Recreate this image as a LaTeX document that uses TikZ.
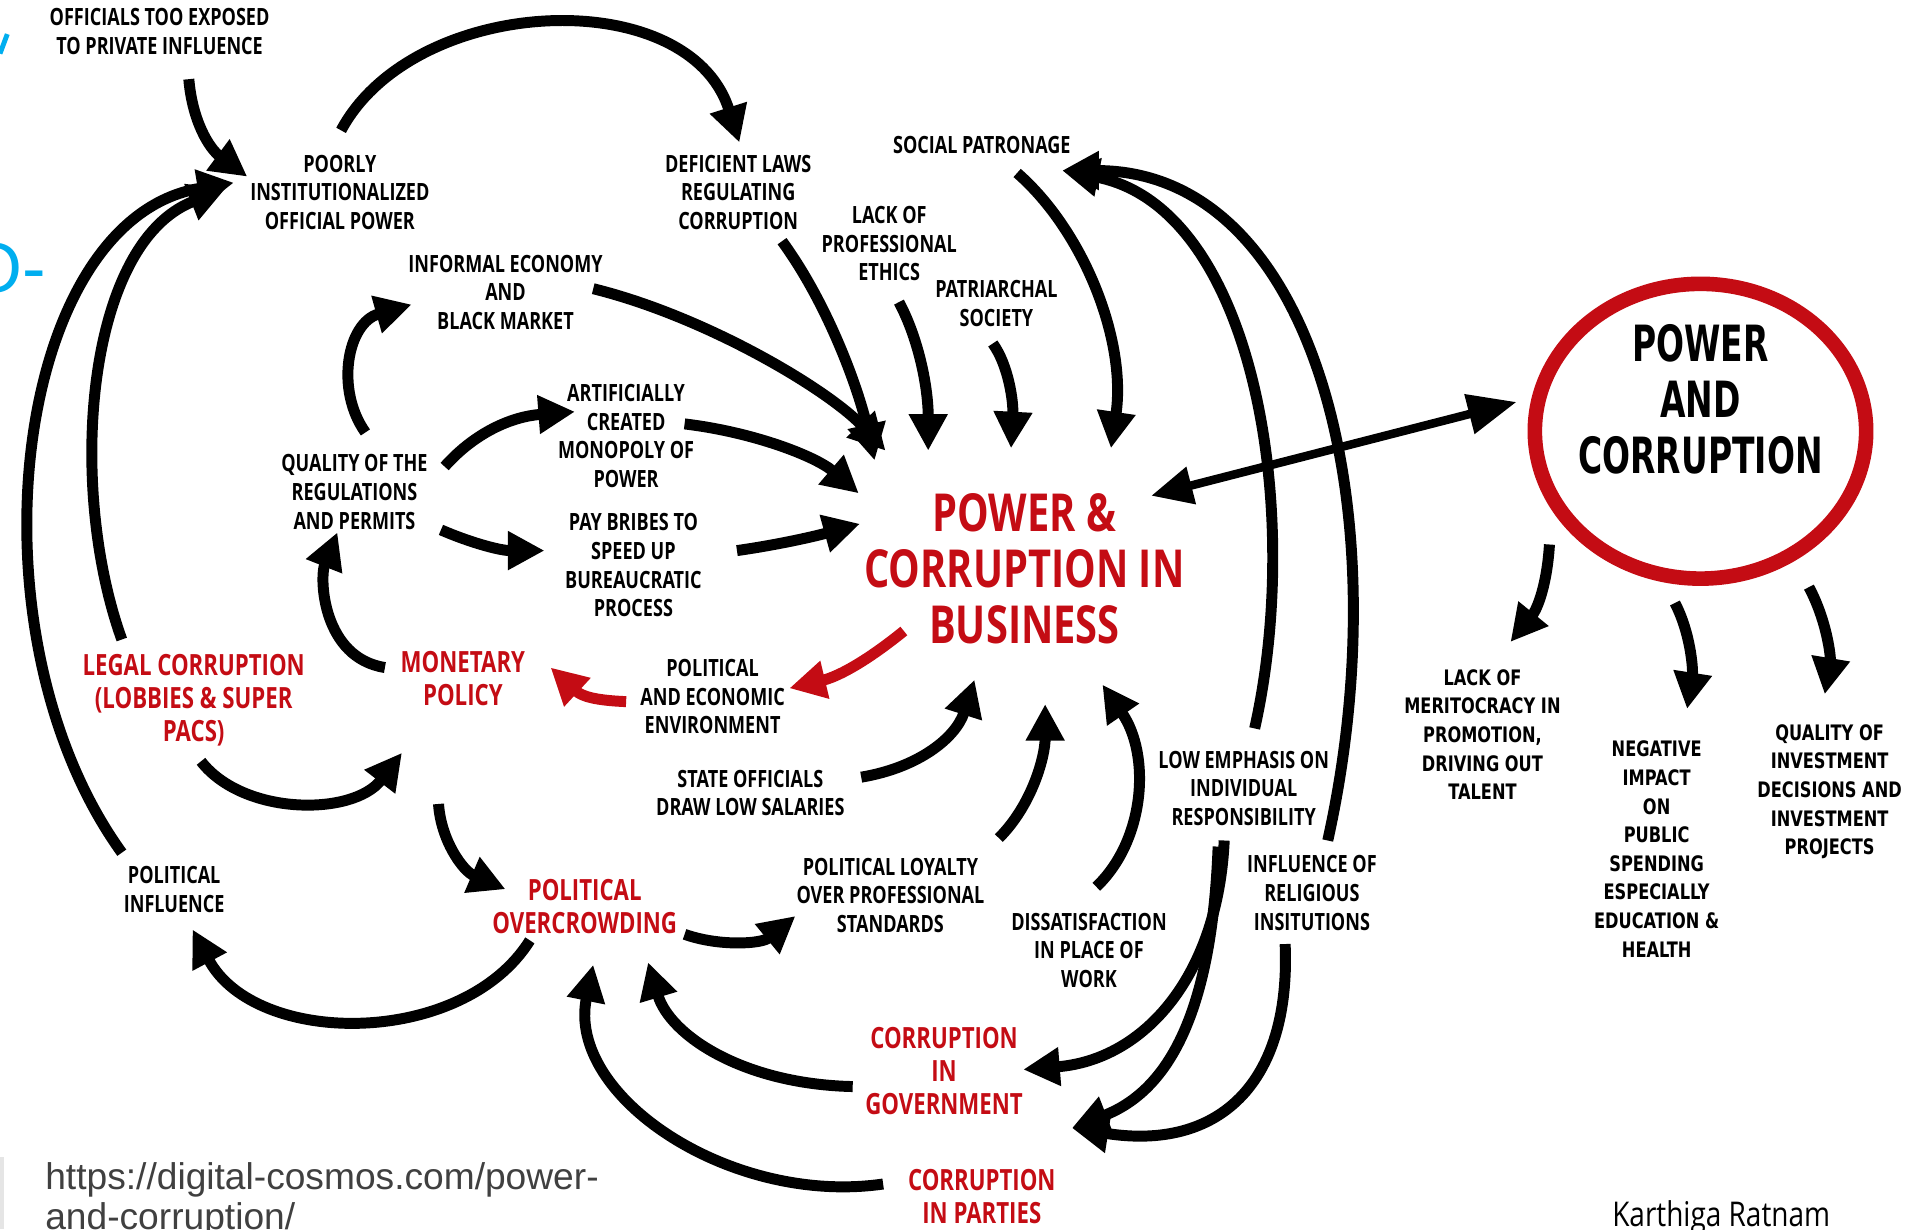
\documentclass[tikz,border=0pt]{standalone}
\usepackage{fontspec}
\usepackage{xcolor}
\usepackage{tikz}
\usetikzlibrary{arrows.meta, shapes.geometric, calc}
\newfontfamily\labfont{Open Sans}[FakeStretch=0.76]
\newfontfamily\outfont{DejaVu Sans}[FakeStretch=0.76]
\newfontfamily\ringfont{DejaVu Sans}[FakeStretch=0.66]
\newfontfamily\signfont{Open Sans}[FakeStretch=0.82]
\newfontfamily\urlfont{Liberation Sans}
\definecolor{corrred}  {RGB}{196, 12, 20}
\definecolor{slideblue}{RGB}{0, 174, 239}
\definecolor{urlgray}  {RGB}{64, 64, 64}
\tikzset{
  % cause label
  cause/.style={
    align=center, inner sep=2pt, text=black,
    font=\labfont\bfseries\fontsize{19.5}{23.5}\selectfont
  },
  % red key factor
  factor/.style={cause, text=corrred,
    font=\labfont\bfseries\fontsize{24}{27}\selectfont},
  % consequences on the right
  effect/.style={cause, font=\outfont\bfseries\fontsize{17.5}{23.5}\selectfont},
  % red ring
  ring/.style={ellipse, draw=corrred, line width=12pt,
    minimum width=272pt, minimum height=242pt},
  % Arrow style
  arr/.style={-{Triangle[length=30pt, width=30pt]}, line width=9pt},
  redarr/.style={arr, draw=corrred},
}

\begin{document}
\begin{tikzpicture}[x=1pt, y=-1pt]
  \fill[white] (0,0) rectangle (1568,1009);
  \useasboundingbox (0,0) rectangle (1568,1009);

  % slide leftovers
  \node[anchor=base west, inner sep=0, text=slideblue,
        font=\urlfont\fontsize{58}{58}\selectfont] (slidefrag) at (-27,240) {O-};
  \draw[slideblue, line width=4pt] (0,44) -- (6,28);
  \fill[black!10] (0,950) rectangle (3,1009);

  \node[cause] (officials) at (131,26)  {OFFICIALS TOO EXPOSED\\TO PRIVATE INFLUENCE};
  \node[cause] (poorly)    at (279,158) {POORLY\\INSTITUTIONALIZED\\OFFICIAL POWER};
  \node[cause] (deficient) at (606,158) {DEFICIENT LAWS\\REGULATING\\CORRUPTION};
  \node[cause] (social)    at (806,119) {SOCIAL PATRONAGE};
  \node[cause] (ethics)    at (730,200) {LACK OF\\PROFESSIONAL\\ETHICS};
  \node[cause] (patri)     at (818,249) {PATRIARCHAL\\SOCIETY};
  \node[cause] (informal)  at (415,240) {INFORMAL ECONOMY\\AND\\BLACK MARKET};
  \node[cause] (monopoly)  at (514,358) {ARTIFICIALLY\\CREATED\\MONOPOLY OF\\POWER};
  \node[cause] (quality)   at (291,404) {QUALITY OF THE\\REGULATIONS\\AND PERMITS};
  \node[cause] (bribes)    at (520,464) {PAY BRIBES TO\\SPEED UP\\BUREAUCRATIC\\PROCESS};
  \node[factor, font=\labfont\bfseries\fontsize{43}{46}\selectfont]
               (business)  at (841,467) {POWER \&\\CORRUPTION IN\\BUSINESS};
  \node[factor] (legal)    at (159,575) {LEGAL CORRUPTION\\(LOBBIES \& SUPER\\PACS)};
  \node[factor] (monetary) at (380,557) {MONETARY\\POLICY};
  \node[cause] (envir)     at (585,572) {POLITICAL\\AND ECONOMIC\\ENVIRONMENT};
  \node[cause] (salaries)  at (616,651) {STATE OFFICIALS\\DRAW LOW SALARIES};
  \node[cause] (polinf)    at (143,730) {POLITICAL\\INFLUENCE};
  \node[factor] (overcrowd) at (480,744) {POLITICAL\\OVERCROWDING};
  \node[cause] (loyalty)   at (731,735) {POLITICAL LOYALTY\\OVER PROFESSIONAL\\STANDARDS};
  \node[cause] (dissat)    at (894,780) {DISSATISFACTION\\IN PLACE OF\\WORK};
  \node[cause] (lowemph)   at (1021,647) {LOW EMPHASIS ON\\INDIVIDUAL\\RESPONSIBILITY};
  \node[cause] (religious) at (1077,733) {INFLUENCE OF\\RELIGIOUS\\INSITUTIONS};
  \node[factor] (govt)     at (775,879) {CORRUPTION\\IN\\GOVERNMENT};
  \node[factor] (parties)  at (806,982) {CORRUPTION\\IN PARTIES};

  \node[ring] (pac) at (1396,354) {};
  \node[align=center, font=\ringfont\bfseries\fontsize{41}{46}\selectfont]
               (pacname)   at (1396,328) {POWER\\AND\\CORRUPTION};
  \node[effect] (merit)    at (1217,603) {LACK OF\\MERITOCRACY IN\\PROMOTION,\\DRIVING OUT\\TALENT};
  \node[effect] (spending) at (1360,697) {NEGATIVE\\IMPACT\\ON\\PUBLIC\\SPENDING\\ESPECIALLY\\EDUCATION \&\\HEALTH};
  \node[effect] (invest)   at (1502,650) {QUALITY OF\\INVESTMENT\\DECISIONS AND\\INVESTMENT\\PROJECTS};

  \node[anchor=north west, align=left, inner sep=0, text=urlgray,
        font=\urlfont\fontsize{30.5}{33}\selectfont]
               (url)       at (37,954) {https://digital-cosmos.com/power-\\and-corruption/};
  \node[font=\signfont\fontsize{28}{30}\selectfont] (author) at (1413,1000) {Karthiga Ratnam};

  % left loop
  \draw[arr] ($(officials)+(24,39)$) .. controls +(3,35) and +(-31,-23) .. ($(poorly)+(-76,-13)$);
  \draw[arr] ($(poorly)+(1,-51)$) .. controls +(60,-112) and +(-42,-132) .. ($(deficient)+(1,-41)$);
  \draw[arr] ($(polinf)+(-43,-30)$) .. controls +(-130,-180) and +(-182,30) .. ($(poorly)+(-87,-8)$);
  \draw[arr] ($(legal)+(-59,-50)$) .. controls +(-45,-125) and +(-115,45) .. ($(poorly)+(-94,-3)$);
  \draw[arr] ($(quality)+(9,-49)$) .. controls +(-25,-35) and +(-53,15) .. ($(informal)+(-77,10)$);
  \draw[arr] ($(quality)+(74,-21)$) .. controls +(25,-28) and +(-52,4) .. ($(monopoly)+(-42,-20)$);
  \draw[arr] ($(quality)+(71,31)$) .. controls +(23,10) and +(-37,0) .. ($(bribes)+(-73,-12)$);
  \draw[arr] ($(monetary)+(-64,-9)$) .. controls +(-51,-8) and +(-15,38) .. ($(quality)+(-14,33)$);

  % into the business node
  \draw[arr] ($(informal)+(72,-3)$) .. controls +(93,23) and +(-47,-50) .. ($(business)+(-114,-97)$);
  \draw[arr] ($(deficient)+(36,40)$) .. controls +(38,52) and +(-13,-58) .. ($(business)+(-123,-89)$);
  \draw[arr] ($(ethics)+(8,48)$) .. controls +(17,32) and +(0,-50) .. ($(business)+(-79,-97)$);
  \draw[arr] ($(patri)+(-3,33)$) .. controls +(13,18) and +(2,-38) .. ($(business)+(-11,-99)$);
  \draw[arr] ($(social)+(29,23)$) .. controls +(55,48) and +(13,-88) .. ($(business)+(71,-99)$);
  \draw[arr] ($(monopoly)+(48,-10)$) .. controls +(58,7) and +(-35,-30) .. ($(business)+(-136,-62)$);
  \draw[arr] ($(bribes)+(85,-12)$) .. controls +(35,-5) and +(-36,10) .. ($(business)+(-135,-37)$);
  \draw[arr] ($(salaries)+(91,-13)$) .. controls +(48,-8) and +(-15,47) .. ($(business)+(-41,91)$);
  \draw[arr] ($(loyalty)+(89,-47)$) .. controls +(28,-28) and +(0,42) .. ($(business)+(17,111)$);
  \draw[arr] ($(dissat)+(6,-52)$) .. controls +(40,-38) and +(40,58) .. ($(business)+(64,95)$);

  % red feedback
  \draw[redarr] ($(business)+(-99,51)$) .. controls +(-27,22) and +(42,-10) .. ($(envir)+(63,-7)$);
  \draw[redarr] ($(envir)+(-71,4)$) .. controls +(-24,-1) and +(26,24) .. ($(monetary)+(72,-9)$);

  % lower loop
  \draw[arr] ($(legal)+(6,50)$) .. controls +(35,45) and +(-40,52) .. ($(monetary)+(-50,61)$);
  \draw[arr] ($(monetary)+(-20,103)$) .. controls +(2,30) and +(-35,-15) .. ($(overcrowd)+(-65,-14)$);
  \draw[arr] ($(overcrowd)+(-45,28)$) .. controls +(-55,88) and +(52,97) .. ($(polinf)+(15,33)$);
  \draw[arr] ($(overcrowd)+(82,23)$) .. controls +(28,10) and +(-28,23) .. ($(loyalty)+(-78,17)$);
  \draw[arr] ($(govt)+(-75,13)$) .. controls +(-90,-2) and +(18,60) .. ($(overcrowd)+(52,46)$);
  \draw[arr] ($(parties)+(-81,-10)$) .. controls +(-125,18) and +(-22,108) .. ($(overcrowd)+(7,48)$);

  % right arcs
  \draw[arr] ($(lowemph)+(9,-49)$) .. controls +(40,-178) and +(158,30) .. ($(social)+(66,21)$);
  \draw[arr] ($(religious)+(13,-43)$) .. controls +(60,-270) and +(208,0) .. ($(social)+(66,21)$);
  \draw[arr] ($(lowemph)+(-16,43)$) .. controls +(-5,110) and +(100,-8) .. ($(govt)+(65,-1)$);
  \draw[arr] ($(lowemph)+(-21,48)$) .. controls +(-5,135) and +(80,-31) .. ($(parties)+(74,-56)$);
  \draw[arr] ($(religious)+(-22,42)$) .. controls +(5,115) and +(120,19) .. ($(parties)+(74,-56)$);

  % ring
  \draw[{Triangle[length=34pt, width=30pt]}-{Triangle[length=40pt, width=32pt]}, line width=7pt]
    ($(business)+(104,-60)$) -- ($(pac)+(-151,-24)$);
  \draw[arr] ($(pac)+(-124,93)$) .. controls +(-2,33) and +(22,-27) .. ($(merit)+(23,-76)$);
  \draw[arr] ($(pac)+(-21,141)$) .. controls +(13,25) and +(5,-32) .. ($(spending)+(25,-115)$);
  \draw[arr] ($(pac)+(89,128)$) .. controls +(15,28) and +(5,-30) .. ($(invest)+(-4,-80)$);
\end{tikzpicture}
\end{document}
